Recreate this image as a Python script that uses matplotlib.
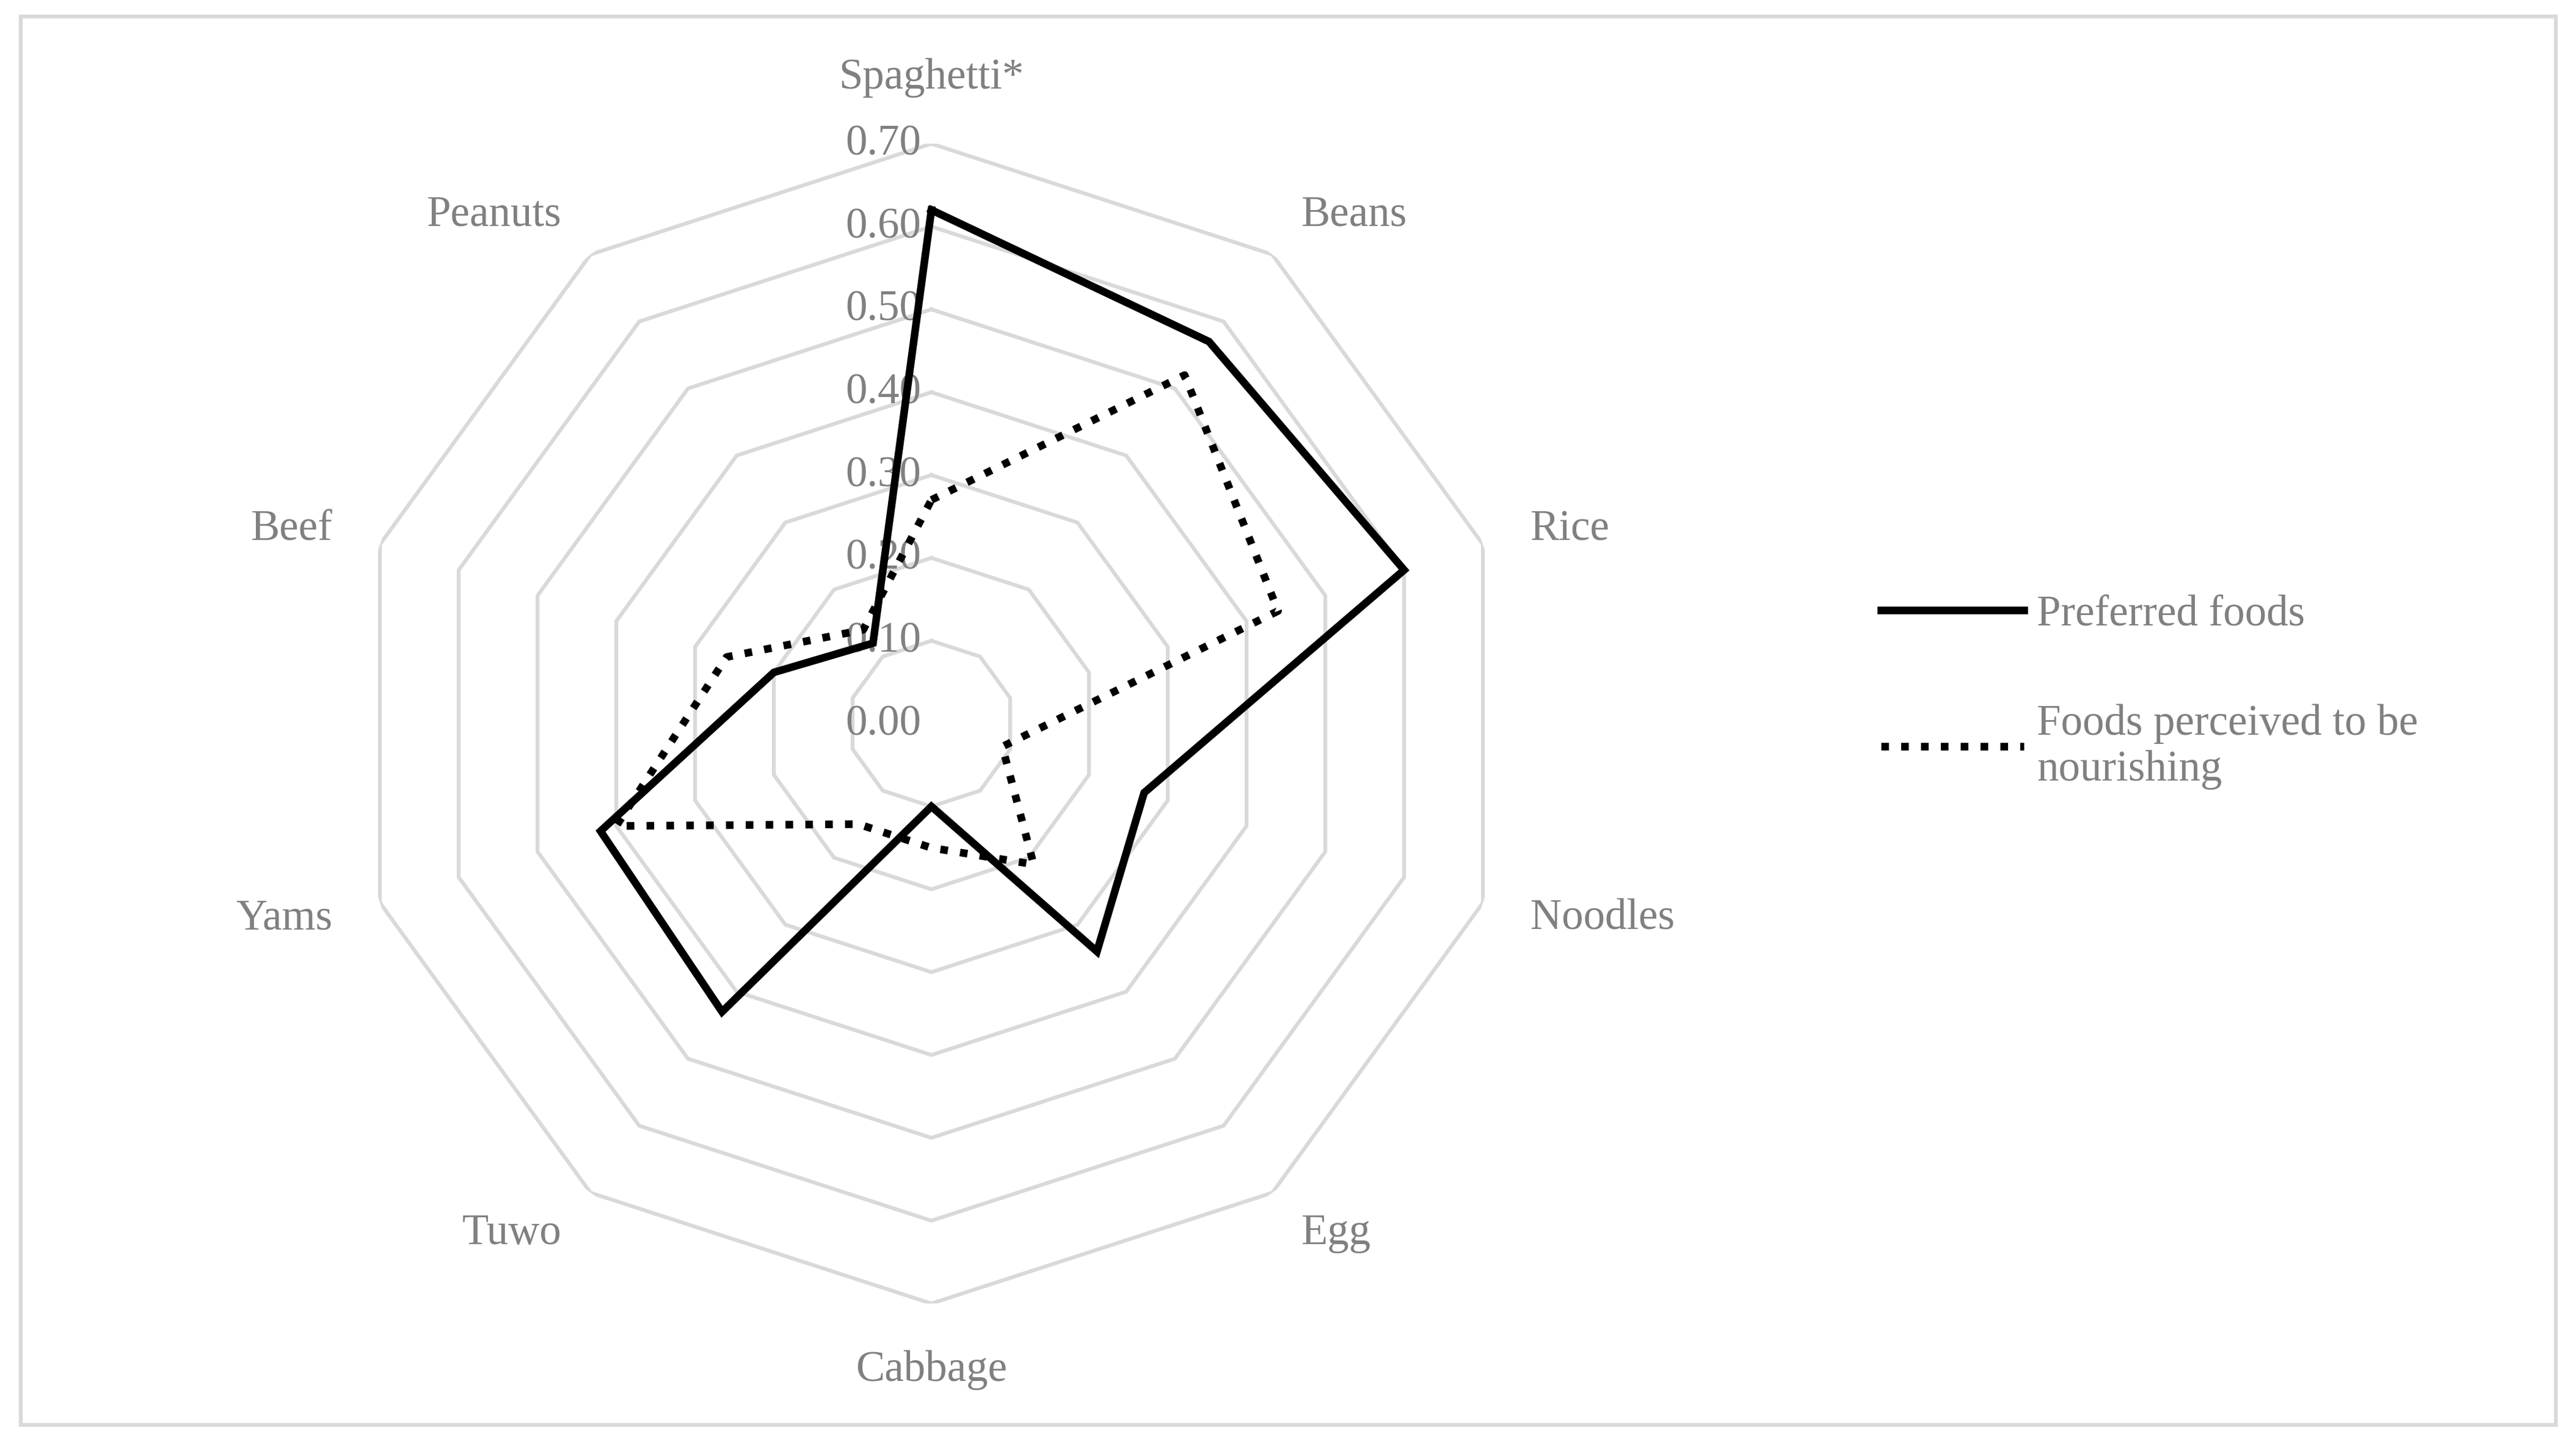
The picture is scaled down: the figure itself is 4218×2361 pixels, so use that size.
import numpy as np
import matplotlib.pyplot as plt
from matplotlib.patches import Rectangle

plt.rcParams["font.family"] = ["Liberation Serif", "DejaVu Serif"]

categories = ["Spaghetti*", "Beans", "Rice", "Noodles", "Egg",
              "Cabbage", "Tuwo", "Yams", "Beef", "Peanuts"]
preferred = [0.62, 0.57, 0.60, 0.27, 0.34, 0.10, 0.43, 0.42, 0.20, 0.12]
nourishing = [0.27, 0.52, 0.44, 0.09, 0.21, 0.15, 0.15, 0.40, 0.26, 0.14]
ticks = [0.0, 0.1, 0.2, 0.3, 0.4, 0.5, 0.6, 0.7]

grey = "#808080"
gridc = "#d9d9d9"

fig = plt.figure(figsize=(14.063, 7.873), dpi=300)
fig.patches.append(Rectangle((0.008, 0.012), 0.984, 0.976, transform=fig.transFigure,
                             fill=False, edgecolor=gridc, linewidth=1.5))

ax = fig.add_axes([0.135, 0.096, 0.453, 0.804], projection="polar")
ax.set_theta_offset(np.pi / 2)
ax.set_theta_direction(-1)
ax.set_ylim(0, 0.7)
ax.grid(False)
ax.set_xticks([])
ax.set_yticks([])
ax.spines["polar"].set_visible(False)
ax.patch.set_alpha(0)

n = len(categories)
theta = np.arange(n) * 2 * np.pi / n
closed = np.append(theta, theta[0])

for t in ticks[1:]:
    ax.plot(closed, [t] * (n + 1), color=gridc, linewidth=1.5, zorder=1)
for t in ticks:
    ax.annotate(f"{t:.2f}", (0, t), xytext=(-4, 0), textcoords="offset points",
                ha="right", va="center", fontsize=17, color=grey, zorder=2)

ax.plot(closed, preferred + preferred[:1], color="black", linewidth=3,
        solid_joinstyle="miter", label="Preferred foods", zorder=3)
ax.plot(closed, nourishing + nourishing[:1], color="black", linewidth=3,
        linestyle=(0, (1, 1.6)), label="Foods perceived to be\nnourishing", zorder=3)

for th, name in zip(theta, categories):
    s = np.sin(th)
    ha = "center" if abs(s) < 0.1 else ("left" if s > 0 else "right")
    r = 0.78 if abs(s) < 0.1 else 0.76
    ax.text(th, r, name, ha=ha, va="center", fontsize=17, color=grey)

leg = fig.legend(loc="center left", bbox_to_anchor=(0.715, 0.52), frameon=False,
                 fontsize=17, handlelength=3.3, handletextpad=0.3, labelspacing=1.6)
for txt in leg.get_texts():
    txt.set_color(grey)

fig.savefig("out.png", dpi=300)
